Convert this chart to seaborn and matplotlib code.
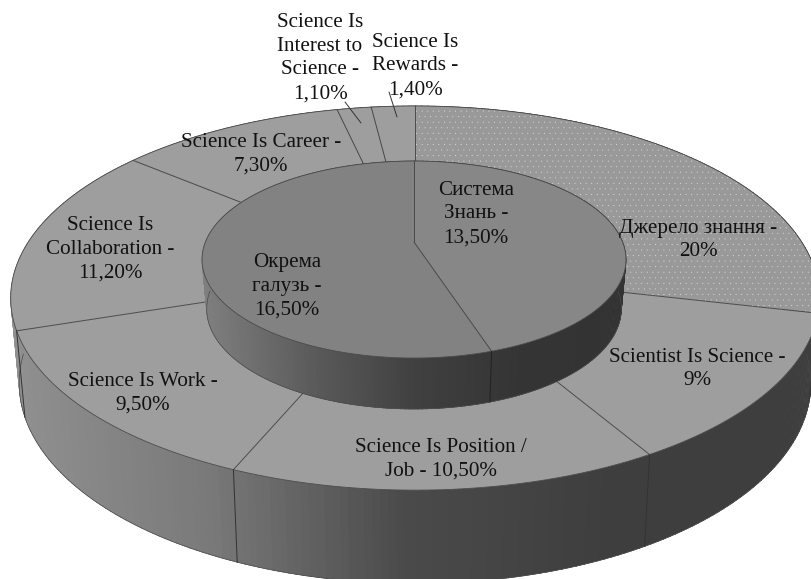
import numpy as np
import matplotlib
matplotlib.use('Agg')
import matplotlib.pyplot as plt
import seaborn as sns

ring_values = [20, 9, 10.5, 9.5, 11.2, 7.3, 1.1, 1.4]
disc_values = [13.5, 16.5]

ring_labels = ['Джерело знання -\n20%', 'Scientist Is Science -\n9%',
               'Science Is Position /\nJob - 10,50%', 'Science Is Work -\n9,50%',
               'Science Is\nCollaboration -\n11,20%', 'Science Is Career -\n7,30%',
               'Science Is\nInterest to\nScience -\n1,10%', 'Science Is\nRewards -\n1,40%']
disc_labels = ['Система\nЗнань -\n13,50%', 'Окрема\nгалузь -\n16,50%']

ring_label_pos = [(698, 240), (697, 369), (441, 459), (143, 393),
                  (110, 249), (261, 154), (320, 58), (415, 66)]
disc_label_pos = [(476, 214), (287, 286)]

# cx, cy, f, g, p of each projected circle
ring_top = (415, 270, 400, 188, 0.146)
ring_bottom = (415, 354, 391.6, 196, 0.146)
disc_top = (414, 242, 208.6, 95.4, 0.178)
disc_bottom = (414, 291, 204, 97, 0.178)

sns.set_theme(style='white')
plt.rcParams['font.family'] = ['Liberation Serif', 'DejaVu Serif']
plt.rcParams['hatch.linewidth'] = 0.0

ring_side = sns.blend_palette(['#919191', '#7a7a7a', '#4a4a4a', '#3e3e3e', '#3e3e3e'], 256)
disc_side = sns.blend_palette(['#808080', '#5c5c5c', '#404040', '#343434', '#333333'], 256)
EDGE = '#4a4a4a'


def project(circle, theta):
    cx, cy, f, g, p = circle
    x, y = np.sin(theta), np.cos(theta)
    d = 1 + p * y
    return cx + f * x / d, cy - g * y / d


def edges(values):
    return np.cumsum([0] + list(values)) / sum(values) * 2 * np.pi


def draw_side(ax, top, bottom, palette, lo, hi, z):
    # back to front, the top faces cover whatever is behind
    angles = np.radians(np.arange(0, 360, 1.0))
    angles = angles[np.argsort(np.cos(angles))[::-1]]
    for a in angles:
        t = np.array([a, a + np.radians(1.2)])
        x1, y1 = project(top, t)
        x2, y2 = project(bottom, t)
        i = int(np.clip((x1.mean() - lo) / (hi - lo), 0, 1) * 255)
        ax.fill(np.r_[x1, x2[::-1]], np.r_[y1, y2[::-1]], color=palette[i], lw=0.4, zorder=z)
    t = np.linspace(np.pi / 2, 3 * np.pi / 2, 200)
    ax.plot(*project(bottom, t), color=EDGE, lw=0.5, zorder=z + 0.1)


def draw_face(ax, circle, a0, a1, color, z, hatch=None):
    t = np.linspace(a0, a1, 200)
    x, y = project(circle, t)
    ax.fill(np.r_[circle[0], x], np.r_[circle[1], y], facecolor=color,
            edgecolor='#dcdcdc' if hatch else color, hatch=hatch, lw=0, zorder=z)
    ax.plot(x, y, color=EDGE, lw=0.6, zorder=z + 0.1)


def draw_dividers(ax, top, bottom, slice_edges, z, side_color):
    for a in slice_edges[:-1]:
        x, y = project(top, a)
        ax.plot([top[0], x], [top[1], y], color=EDGE, lw=0.7, zorder=z)
        if np.cos(a) < 0.2:
            xb, yb = project(bottom, a)
            ax.plot([x, xb], [y, yb], color=side_color, lw=0.7, zorder=z)


fig, ax = plt.subplots(figsize=(8.11, 5.79), dpi=100)
ax.set_position([0, 0, 1, 1])
ax.set_xlim(0, 811)
ax.set_ylim(579, 0)
ax.axis('off')

draw_side(ax, ring_top, ring_bottom, ring_side, 0, 811, 1)
ring_edges = edges(ring_values)
for i in range(len(ring_values)):
    draw_face(ax, ring_top, ring_edges[i], ring_edges[i + 1],
              '#999999' if i == 0 else '#9e9e9e', 2, hatch='...' if i == 0 else None)
draw_dividers(ax, ring_top, ring_bottom, ring_edges, 3, '#333333')

draw_side(ax, disc_top, disc_bottom, disc_side, 200, 630, 4)
disc_edges = edges(disc_values)
disc_colors = ['#878787', '#828282']
for i in range(len(disc_values)):
    draw_face(ax, disc_top, disc_edges[i], disc_edges[i + 1], disc_colors[i], 5)
draw_dividers(ax, disc_top, disc_bottom, disc_edges, 6, '#222222')

for lab, pos in zip(ring_labels + disc_labels, ring_label_pos + disc_label_pos):
    ax.text(pos[0], pos[1], lab, ha='center', va='center', fontsize=15.2,
            color='#111111', linespacing=1.35, zorder=8)

# leader lines of the two smallest slices
leader = dict(arrowstyle='-', color='#333333', lw=0.7, shrinkA=0, shrinkB=0)
ax.annotate('', xy=(361, 123), xytext=(345, 102), arrowprops=leader, zorder=7)
ax.annotate('', xy=(397, 117), xytext=(389, 92), arrowprops=leader, zorder=7)

fig.savefig('out.png', dpi=100)
plt.close(fig)
